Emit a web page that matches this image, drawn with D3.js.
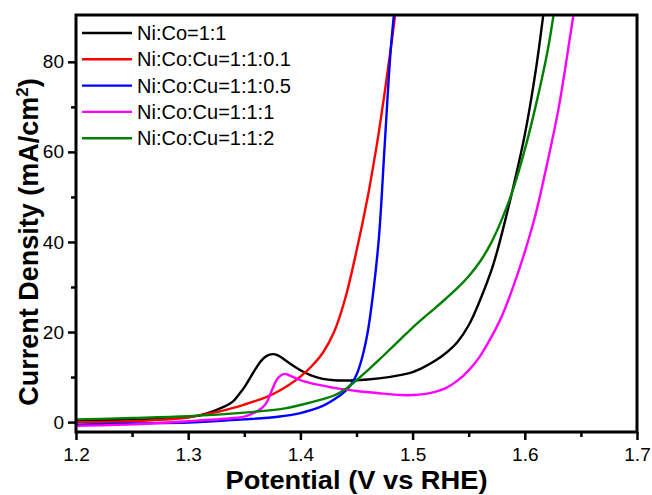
<!DOCTYPE html>
<html>
<head>
<meta charset="utf-8">
<script src="https://cdn.jsdelivr.net/npm/d3@7/dist/d3.min.js"></script>
<style>
  html, body { margin: 0; padding: 0; background: #fff; }
  svg { display: block; }
  text { font-family: "Liberation Sans", Arial, sans-serif; fill: #000; }
</style>
</head>
<body>
<svg id="chart" width="652" height="495"></svg>
<script>
// Linear sweep voltammetry curves: potential (V vs RHE) against current density (mA/cm²)
const seriesNames = ["Ni:Co=1:1", "Ni:Co:Cu=1:1:0.1", "Ni:Co:Cu=1:1:0.5", "Ni:Co:Cu=1:1:1", "Ni:Co:Cu=1:1:2"];
const seriesColors = ["#000000", "#ff0000", "#0000ff", "#ff00ff", "#008000"];

const potentialNiCo = [1.20, 1.25, 1.30, 1.31, 1.32, 1.33, 1.34, 1.346, 1.35, 1.36, 1.365, 1.37, 1.375, 1.38, 1.39, 1.40, 1.41, 1.42, 1.43, 1.45, 1.47, 1.49, 1.50, 1.51, 1.52, 1.53, 1.54, 1.55, 1.56, 1.57, 1.575, 1.58, 1.59, 1.60, 1.61, 1.617];
const currentNiCo   = [0.3, 0.6, 1.1, 1.5, 2.2, 3.2, 4.6, 6.4, 7.7, 11.8, 13.6, 14.7, 15.1, 14.8, 13.1, 11.5, 10.3, 9.6, 9.3, 9.3, 9.7, 10.5, 11.1, 12.2, 13.6, 15.4, 17.8, 21.5, 27.0, 33.5, 37.6, 42.3, 52.5, 63.8, 78.5, 91.5];

const potentialCu01 = [1.20, 1.25, 1.30, 1.31, 1.33, 1.35, 1.37, 1.38, 1.39, 1.40, 1.41, 1.42, 1.43, 1.44, 1.45, 1.46, 1.465, 1.47, 1.475, 1.48, 1.485];
const currentCu01   = [0.0, 0.2, 1.0, 1.5, 2.5, 3.9, 5.6, 6.8, 8.3, 10.1, 12.4, 15.4, 20.0, 27.5, 38.0, 50.0, 57.0, 64.5, 73.0, 82.0, 91.5];

const potentialCu05 = [1.20, 1.25, 1.30, 1.35, 1.38, 1.40, 1.41, 1.42, 1.43, 1.44, 1.445, 1.45, 1.455, 1.46, 1.465, 1.47, 1.475, 1.48, 1.4835];
const currentCu05   = [-0.6, -0.3, -0.1, 0.6, 1.2, 2.0, 2.7, 3.6, 5.0, 6.9, 8.3, 10.5, 14.3, 20.0, 29.0, 41.0, 61.0, 81.0, 91.0];

const potentialCu1 = [1.20, 1.25, 1.30, 1.33, 1.35, 1.36, 1.366, 1.37, 1.375, 1.38, 1.386, 1.39, 1.40, 1.41, 1.42, 1.43, 1.45, 1.47, 1.49, 1.50, 1.51, 1.52, 1.53, 1.54, 1.55, 1.56, 1.57, 1.58, 1.59, 1.60, 1.61, 1.62, 1.63, 1.64, 1.644];
const currentCu1   = [-0.8, -0.5, 0.2, 0.7, 1.2, 2.2, 3.2, 4.4, 7.3, 9.8, 10.7, 10.4, 9.3, 8.6, 8.1, 7.6, 6.9, 6.4, 6.0, 6.0, 6.2, 6.7, 7.6, 9.2, 11.5, 14.6, 18.8, 23.8, 30.3, 37.8, 46.5, 57.5, 69.5, 85.0, 91.5];

const potentialCu2 = [1.20, 1.25, 1.30, 1.35, 1.385, 1.40, 1.42, 1.43, 1.44, 1.45, 1.46, 1.47, 1.48, 1.49, 1.50, 1.51, 1.52, 1.53, 1.54, 1.55, 1.56, 1.57, 1.58, 1.59, 1.60, 1.61, 1.62, 1.626];
const currentCu2   = [0.6, 0.9, 1.3, 2.1, 3.0, 3.8, 5.1, 5.9, 7.3, 9.3, 11.5, 13.8, 16.2, 18.6, 21.0, 23.2, 25.3, 27.5, 29.8, 32.4, 35.6, 39.8, 45.3, 52.0, 60.5, 70.5, 82.0, 91.0];

const potentialSets = [potentialNiCo, potentialCu01, potentialCu05, potentialCu1, potentialCu2];
const currentSets   = [currentNiCo, currentCu01, currentCu05, currentCu1, currentCu2];

const xMajorTicks = [1.2, 1.3, 1.4, 1.5, 1.6, 1.7];
const xMinorTicks = [1.25, 1.35, 1.45, 1.55, 1.65];
const yMajorTicks = [0, 20, 40, 60, 80];
const yMinorTicks = [10, 30, 50, 70];

const xTitle = "Potential (V vs RHE)";

// Layout
const plot = { left: 76, right: 637, top: 15, bottom: 432 };
const svg = d3.select("#chart");

const x = d3.scaleLinear().domain([1.2, 1.7]).range([plot.left, plot.right]);
const y = d3.scaleLinear().domain([-2.2, 90.4]).range([plot.bottom, plot.top]);

// Axes with outward ticks
function styleAxis(g) {
  g.select(".domain").remove();
  g.selectAll(".tick line").attr("stroke", "#000").attr("stroke-width", 2.5);
  g.selectAll(".tick text").style("font-size", "19px").attr("fill", "#000");
}

svg.append("g")
  .attr("transform", `translate(0,${plot.bottom})`)
  .call(d3.axisBottom(x).tickValues(xMajorTicks).tickFormat(d3.format(".1f")).tickSize(8).tickPadding(8))
  .call(styleAxis);
svg.append("g")
  .attr("transform", `translate(0,${plot.bottom})`)
  .call(d3.axisBottom(x).tickValues(xMinorTicks).tickFormat("").tickSize(5))
  .call(styleAxis);

svg.append("g")
  .attr("transform", `translate(${plot.left},0)`)
  .call(d3.axisLeft(y).tickValues(yMajorTicks).tickFormat(d3.format("d")).tickSize(8).tickPadding(4))
  .call(styleAxis);
svg.append("g")
  .attr("transform", `translate(${plot.left},0)`)
  .call(d3.axisLeft(y).tickValues(yMinorTicks).tickFormat("").tickSize(5))
  .call(styleAxis);

// Curves, clipped to the plotting frame
svg.append("defs").append("clipPath").attr("id", "plotClip")
  .append("rect")
  .attr("x", plot.left).attr("y", plot.top)
  .attr("width", plot.right - plot.left).attr("height", plot.bottom - plot.top);

const line = d3.line()
  .x(d => x(d[0]))
  .y(d => y(d[1]))
  .curve(d3.curveCatmullRom.alpha(0.5));

const curves = svg.append("g").attr("clip-path", "url(#plotClip)");
seriesNames.forEach((name, i) => {
  const pts = potentialSets[i].map((v, k) => [v, currentSets[i][k]]);
  curves.append("path")
    .datum(pts)
    .attr("fill", "none")
    .attr("stroke", seriesColors[i])
    .attr("stroke-width", 2.4)
    .attr("stroke-linejoin", "round")
    .attr("d", line);
});

// Frame
svg.append("rect")
  .attr("x", plot.left).attr("y", plot.top)
  .attr("width", plot.right - plot.left).attr("height", plot.bottom - plot.top)
  .attr("fill", "none").attr("stroke", "#000").attr("stroke-width", 3);

// Legend
const legend = svg.append("g");
seriesNames.forEach((name, i) => {
  const cy = 33 + i * 26.3;
  legend.append("line")
    .attr("x1", 82).attr("x2", 132).attr("y1", cy).attr("y2", cy)
    .attr("stroke", seriesColors[i]).attr("stroke-width", 2.4);
  legend.append("text")
    .attr("x", 137).attr("y", cy + 7)
    .style("font-size", "20px")
    .text(name);
});

// Axis titles
svg.append("text")
  .attr("x", (plot.left + plot.right) / 2).attr("y", 489)
  .attr("text-anchor", "middle")
  .style("font-size", "25px").style("font-weight", "bold")
  .attr("textLength", 262).attr("lengthAdjust", "spacingAndGlyphs")
  .text(xTitle);

const yTitle = svg.append("text")
  .attr("transform", "translate(38,242) rotate(-90)")
  .attr("text-anchor", "middle")
  .style("font-size", "27px").style("font-weight", "bold");
yTitle.append("tspan").text("Current Density (mA/cm");
yTitle.append("tspan").attr("dy", -10).style("font-size", "17px").text("2");
yTitle.append("tspan").attr("dy", 10).text(")");
</script>
</body>
</html>
